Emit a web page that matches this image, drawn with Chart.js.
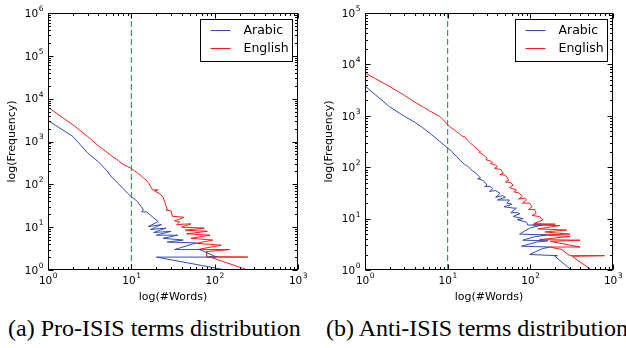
<!DOCTYPE html>
<html>
<head>
<meta charset="utf-8">
<script src="https://cdn.jsdelivr.net/npm/chart.js@4.4.1/dist/chart.umd.min.js"></script>
<style>
  body { margin: 0; background: #fff; width: 626px; height: 348px; overflow: hidden; position: relative; }
  .box { position: absolute; top: 0; width: 313px; height: 306px; }
  #box1 { left: 0; }
  #box2 { left: 313px; }
  .cap { position: absolute; top: 314px; font-family: "Liberation Serif", serif; font-size: 24px; line-height: 28px; white-space: nowrap; color: #000; }
</style>
</head>
<body>
<div class="box" id="box1"><canvas id="proChart"></canvas></div>
<div class="box" id="box2"><canvas id="antiChart"></canvas></div>
<div class="cap" style="left:8px">(a) Pro-ISIS terms distribution</div>
<div class="cap" style="left:326px">(b) Anti-ISIS terms distribution</div>
<script>
// Pro-ISIS (left)
const proArabicX = [1, 2, 3, 4, 5, 6, 7, 8, 9, 10, 11, 12, 13, 14, 13.3, 15.3, 21, 16, 23, 17, 26, 18.5, 30, 20, 36, 24, 42, 27, 60, 33, 66, 106, 20, 138];
const proArabicY = [3100, 1300, 535, 340, 215, 138, 104, 79, 62, 51, 45, 38, 31, 25, 23, 22.5, 13.5, 10.3, 11.5, 8.8, 9.5, 7.5, 8, 6.5, 6.5, 5.5, 5, 4.5, 4.3, 3, 3, 2, 2, 1];
const proEnglishX = [1, 2, 3, 4, 5, 6, 7, 8, 9, 10, 11, 12, 13, 14, 15, 16, 17, 18, 21, 19, 22, 24, 25, 27, 26, 30, 31, 43, 33, 38, 35, 52, 40, 75, 44, 82, 46, 88, 52, 95, 60, 120, 62, 153, 80, 80, 250, 85, 250];
const proEnglishY = [6300, 2430, 1300, 800, 575, 440, 358, 290, 260, 236, 205, 180, 160, 140, 126, 110, 90, 74, 74, 70, 60, 51, 40, 26, 25, 24, 18, 17, 14, 13.5, 11.5, 12, 10, 9.5, 8.5, 8, 7, 6.5, 5.5, 5, 4.2, 3.8, 3, 3, 2.7, 2, 2, 2.05, 1];

// Anti-ISIS (right)
const antiArabicX = [1, 2, 3, 4, 5, 6, 7, 8, 9, 10, 11, 12, 13, 14, 15, 16, 17, 18, 19, 20, 22, 24, 25, 23, 27, 30, 28, 33, 35, 32, 38, 43, 38, 46, 50, 40, 56, 52, 60, 48, 62, 68, 58, 70, 75, 62, 82, 70, 90, 93, 137, 98, 74, 156, 110, 81, 163, 120, 78, 172, 140, 98, 213, 195, 313];
const antiArabicY = [3800, 1480, 980, 750, 586, 466, 380, 319, 272, 234, 210, 178, 160, 138, 125, 112, 108, 100, 92, 85, 76, 66, 62, 60, 55, 45, 42, 42, 38, 34, 35, 31, 26, 28, 26, 23, 23, 20, 19, 17, 16, 16, 13, 13, 12.5, 11, 10, 9.5, 8.5, 7.5, 7.5, 6.5, 5, 4.8, 4.4, 3.8, 3.7, 3.5, 2.9, 2.8, 2.6, 2, 1.9, 1.9, 1];
const antiEnglishX = [1, 2, 3, 4, 5, 6, 7, 8, 9, 10, 11, 12, 13, 14, 15, 16, 17, 18, 19, 20, 22, 24, 25, 24, 27, 30, 29, 33, 35, 33, 38, 40, 37, 44, 47, 43, 50, 55, 50, 58, 62, 56, 68, 63, 72, 80, 72, 86, 90, 80, 98, 105, 95, 112, 118, 105, 128, 143, 110, 200, 107, 226, 123, 275, 150, 300, 135, 302, 129, 400, 175, 400, 172, 240, 300, 790, 320, 549];
const antiEnglishY = [6800, 3700, 2500, 1850, 1500, 1260, 1090, 975, 815, 670, 590, 535, 480, 445, 400, 395, 350, 316, 290, 272, 235, 210, 200, 195, 174, 150, 140, 132, 123, 118, 110, 103, 95, 90, 76, 72, 70, 56, 52, 50, 45, 40, 36, 33, 32, 27, 24, 25, 23, 20, 20, 17, 15, 15, 12.6, 11.5, 11, 9.4, 8, 7.8, 7.5, 7.3, 6.3, 6, 5.5, 5, 4.8, 4.5, 3.9, 3.8, 3.6, 2.8, 2.8, 2.5, 1.9, 1.9, 1.85, 1];

// vertical dashed cutoff
const cutoffX = 10;
// tick label exponents
const xTickExps = [0, 1, 2, 3];
const proYTickExps = [0, 1, 2, 3, 4, 5, 6];
const antiYTickExps = [0, 1, 2, 3, 4, 5];

const seriesNames = ["Arabic", "English"];
const blue = "#2f4db4";
const red = "#f01e1e";
const green = "#1f8a3c";

function pts(xs, ys) {
  return xs.map((v, i) => ({ x: v, y: ys[i] }));
}

function drawPow(ctx, x, y, exp, align) {
  ctx.font = "10.5px 'DejaVu Sans'";
  const w10 = ctx.measureText("10").width;
  ctx.font = "7.5px 'DejaVu Sans'";
  const we = ctx.measureText(String(exp)).width;
  const total = w10 + we;
  let sx = align === "right" ? x - total : x - total / 2;
  ctx.textAlign = "left";
  ctx.textBaseline = "middle";
  ctx.font = "10.5px 'DejaVu Sans'";
  ctx.fillText("10", sx, y);
  ctx.font = "7.5px 'DejaVu Sans'";
  ctx.fillText(String(exp), sx + w10 + 0.5, y - 5);
}

// frame, inner ticks, labels, titles, legend
const decor = {
  id: "decor",
  afterDraw(chart, args, opts) {
    const { ctx, chartArea: a, scales } = chart;
    const xs = scales.x, ys = scales.y;
    const L = Math.round(a.left) + 0.5, R = Math.round(a.right) - 0.5;
    const T = Math.round(a.top) + 0.5, B = Math.round(a.bottom) - 0.5;
    ctx.save();
    ctx.strokeStyle = "#000";
    ctx.lineWidth = 1;
    ctx.strokeRect(L, T, R - L, B - T);

    ctx.beginPath();
    for (let k = 0; k < xTickExps.length; k++) {
      for (let m = 1; m <= 9; m++) {
        const v = m * Math.pow(10, xTickExps[k]);
        if (v > xs.max) break;
        const px = Math.round(xs.getPixelForValue(v)) + 0.5;
        const len = m === 1 ? 5 : 2.5;
        ctx.moveTo(px, B); ctx.lineTo(px, B - len);
        ctx.moveTo(px, T); ctx.lineTo(px, T + len);
      }
    }
    const yExps = opts.yExps;
    for (let k = 0; k < yExps.length; k++) {
      for (let m = 1; m <= 9; m++) {
        const v = m * Math.pow(10, yExps[k]);
        if (v > ys.max) break;
        const py = Math.round(ys.getPixelForValue(v)) + 0.5;
        const len = m === 1 ? 5 : 2.5;
        ctx.moveTo(L, py); ctx.lineTo(L + len, py);
        ctx.moveTo(R, py); ctx.lineTo(R - len, py);
      }
    }
    ctx.stroke();

    ctx.fillStyle = "#000";
    xTickExps.forEach(e => {
      drawPow(ctx, xs.getPixelForValue(Math.pow(10, e)), a.bottom + 11, e, "center");
    });
    yExps.forEach(e => {
      drawPow(ctx, a.left - 5, ys.getPixelForValue(Math.pow(10, e)) + 1, e, "right");
    });

    ctx.font = "11px 'DejaVu Sans'";
    ctx.textAlign = "center";
    ctx.textBaseline = "middle";
    ctx.fillText("log(#Words)", (a.left + a.right) / 2, a.bottom + 27);
    ctx.save();
    ctx.translate(a.left - 36, (a.top + a.bottom) / 2);
    ctx.rotate(-Math.PI / 2);
    ctx.fillText("log(Frequency)", 0, 0);
    ctx.restore();

    // legend
    const bw = 92, bh = 42;
    const bx = Math.round(a.right - 6 - bw) + 0.5, by = Math.round(a.top + 6) + 0.5;
    ctx.fillStyle = "#fff";
    ctx.fillRect(bx, by, bw, bh);
    ctx.strokeStyle = "#000";
    ctx.strokeRect(bx, by, bw, bh);
    ctx.font = "12.5px 'DejaVu Sans'";
    ctx.textAlign = "left";
    [blue, red].forEach((c, i) => {
      const ly = by + 11 + i * 18;
      ctx.strokeStyle = c;
      ctx.beginPath();
      ctx.moveTo(bx + 10, ly); ctx.lineTo(bx + 30, ly);
      ctx.stroke();
      ctx.fillStyle = "#000";
      ctx.fillText(seriesNames[i], bx + 43, ly);
    });
    ctx.restore();
  }
};

function makeChart(id, arX, arY, enX, enY, yMax, yExps, yWidth, padRight) {
  const ctx = document.getElementById(id).getContext("2d");
  return new Chart(ctx, {
    type: "scatter",
    data: {
      datasets: [
        { label: "cutoff", data: [{ x: cutoffX, y: 1 }, { x: cutoffX, y: yMax }], showLine: true,
          borderColor: green, borderWidth: 1, borderDash: [6, 3], pointRadius: 0 },
        { label: seriesNames[0], data: pts(arX, arY), showLine: true, borderColor: blue,
          borderWidth: 1, pointRadius: 0, tension: 0 },
        { label: seriesNames[1], data: pts(enX, enY), showLine: true, borderColor: red,
          borderWidth: 1, pointRadius: 0, tension: 0 }
      ]
    },
    options: {
      responsive: true,
      maintainAspectRatio: false,
      animation: false,
      layout: { padding: { top: 13, right: padRight, left: 0, bottom: 0 } },
      plugins: { legend: { display: false }, tooltip: { enabled: false }, decor: { yExps: yExps } },
      scales: {
        x: {
          type: "logarithmic", min: 1, max: 1000,
          ticks: { display: false }, grid: { display: false }, border: { display: false },
          afterFit: s => { s.height = 36; }
        },
        y: {
          type: "logarithmic", min: 1, max: yMax,
          ticks: { display: false }, grid: { display: false }, border: { display: false },
          afterFit: s => { s.width = yWidth; }
        }
      }
    },
    plugins: [decor]
  });
}

makeChart("proChart", proArabicX, proArabicY, proEnglishX, proEnglishY, 1e6, proYTickExps, 48, 15);
makeChart("antiChart", antiArabicX, antiArabicY, antiEnglishX, antiEnglishY, 1e5, antiYTickExps, 52, 13);
</script>
</body>
</html>
